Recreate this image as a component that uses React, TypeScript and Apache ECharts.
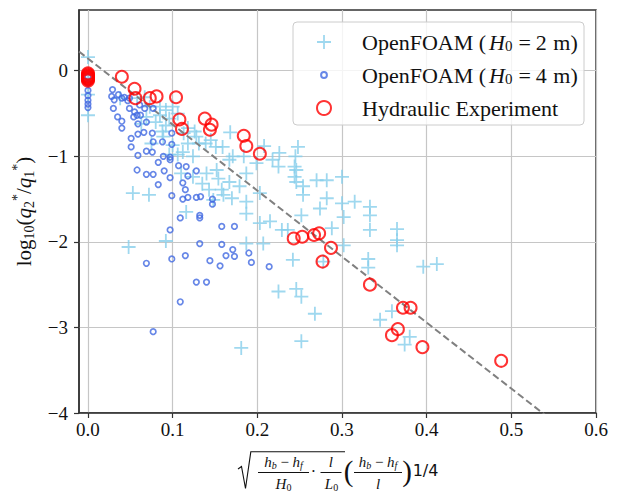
import React, { useEffect, useRef } from 'react';
import * as echarts from 'echarts';

// ---------- data ----------
const h2X = [0, 0, 0, 0, 0.038, 0.058, 0.067, 0.073, 0.085, 0.092, 0.100, 0.106, 0.096, 0.085, 0.069, 0.063, 0.080, 0.092, 0.088, 0.075, 0.089, 0.100, 0.113, 0.118, 0.126, 0.128, 0.131, 0.124, 0.106, 0.139, 0.145, 0.151, 0.159, 0.168, 0.167, 0.171, 0.187, 0.184, 0.199, 0.208, 0.218, 0.225, 0.226, 0.245, 0.244, 0.246, 0.244, 0.246, 0.248, 0.254, 0.203, 0.179, 0.152, 0.158, 0.140, 0.124, 0.135, 0.148, 0.118, 0.112, 0.110, 0.096, 0.053, 0.072, 0.143, 0.154, 0.160, 0.170, 0.167, 0.116, 0.270, 0.282, 0.300, 0.254, 0.282, 0.300, 0.315, 0.333, 0.333, 0.333, 0.302, 0.274, 0.252, 0.187, 0.187, 0.203, 0.215, 0.229, 0.236, 0.288, 0.187, 0.207, 0.242, 0.302, 0.331, 0.331, 0.365, 0.365, 0.365, 0.396, 0.412, 0.225, 0.246, 0.252, 0.268, 0.252, 0.359, 0.345, 0.380, 0.374, 0.181, 0.048, 0.092, 0.278];
const h2Y = [0.16, -0.09, -0.28, -0.52, -0.32, -0.32, -0.31, -0.42, -0.42, -0.46, -0.42, -0.50, -0.56, -0.52, -0.54, -0.62, -0.60, -0.64, -0.71, -0.85, -0.77, -0.87, -0.73, -0.67, -0.71, -0.77, -0.85, -1.00, -0.98, -0.85, -0.81, -0.89, -0.89, -0.72, -1.04, -1.00, -1.20, -1.00, -1.08, -0.88, -1.04, -1.12, -0.96, -1.00, -1.12, -1.16, -1.24, -1.30, -0.89, -1.35, -1.43, -1.35, -1.16, -1.39, -1.20, -1.24, -1.32, -1.51, -0.85, -0.95, -1.20, -0.98, -1.43, -1.45, -1.39, -1.26, -1.45, -1.49, -1.30, -1.65, -1.28, -1.28, -1.24, -1.45, -1.49, -1.55, -1.53, -1.59, -1.69, -1.86, -1.71, -1.61, -1.69, -1.53, -1.67, -1.78, -1.76, -1.86, -1.86, -1.84, -2.02, -2.02, -2.21, -2.04, -2.20, -2.30, -1.85, -1.98, -2.04, -2.29, -2.26, -2.58, -2.55, -2.64, -2.84, -3.16, -2.81, -2.91, -3.11, -3.20, -3.24, -2.06, -1.99, -2.23];

const h4X = [0, 0, 0, 0, 0, 0, 0, 0.029, 0.028, 0.036, 0.031, 0.040, 0.043, 0.047, 0.049, 0.030, 0.035, 0.040, 0.040, 0.049, 0.054, 0.058, 0.062, 0.059, 0.069, 0.066, 0.076, 0.077, 0.059, 0.051, 0.051, 0.059, 0.069, 0.076, 0.088, 0.099, 0.099, 0.089, 0.097, 0.097, 0.083, 0.061, 0.067, 0.077, 0.055, 0.058, 0.069, 0.077, 0.083, 0.090, 0.097, 0.107, 0.116, 0.118, 0.128, 0.112, 0.115, 0.118, 0.112, 0.099, 0.128, 0.133, 0.147, 0.147, 0.109, 0.132, 0.132, 0.097, 0.158, 0.173, 0.132, 0.158, 0.171, 0.163, 0.173, 0.190, 0.193, 0.214, 0.156, 0.144, 0.115, 0.099, 0.069, 0.128, 0.140, 0.109, 0.077];
const h4Y = [-0.07, -0.145, -0.23, -0.29, -0.345, -0.39, -0.43, -0.22, -0.30, -0.28, -0.34, -0.32, -0.31, -0.35, -0.32, -0.44, -0.54, -0.59, -0.67, -0.44, -0.54, -0.52, -0.52, -0.62, -0.60, -0.72, -0.73, -0.83, -0.74, -0.79, -0.89, -0.99, -0.94, -0.95, -0.83, -0.86, -0.73, -1.00, -1.01, -1.04, -1.07, -0.40, -0.44, -0.44, -0.48, -1.16, -1.21, -1.21, -1.33, -1.17, -1.25, -1.11, -1.12, -1.23, -1.17, -1.31, -1.39, -1.48, -1.50, -1.46, -1.48, -1.47, -1.50, -1.56, -1.72, -1.69, -1.72, -1.86, -1.82, -1.82, -2.02, -2.03, -2.09, -2.16, -2.17, -2.13, -2.24, -2.29, -2.28, -2.22, -2.16, -2.20, -2.25, -2.47, -2.47, -2.70, -3.05];

const expX = [0, 0, 0, 0, 0, 0, 0, 0, 0.040, 0.055, 0.056, 0.073, 0.081, 0.104, 0.108, 0.111, 0.138, 0.146, 0.144, 0.184, 0.187, 0.203, 0.243, 0.253, 0.267, 0.273, 0.287, 0.277, 0.333, 0.372, 0.381, 0.359, 0.366, 0.395, 0.488];
const expY = [-0.03, -0.045, -0.06, -0.07, -0.08, -0.09, -0.10, -0.115, -0.07, -0.21, -0.32, -0.32, -0.30, -0.31, -0.57, -0.68, -0.56, -0.63, -0.69, -0.76, -0.88, -0.97, -1.96, -1.94, -1.92, -1.90, -2.07, -2.23, -2.50, -2.77, -2.77, -3.09, -3.02, -3.23, -3.39];

const fitX = [-0.0106, 0.56];
const fitY = [0.224, -4.178];

const xTickValues = [0, 0.1, 0.2, 0.3, 0.4, 0.5, 0.6];
const yTickValues = [-4, -3, -2, -1, 0];

const NAME_H2 = 'OpenFOAM (H0 = 2 m)';
const NAME_H4 = 'OpenFOAM (H0 = 4 m)';
const NAME_EXP = 'Hydraulic Experiment';

const SERIF = "'Liberation Serif', 'Times New Roman', serif";
const PLUS_PATH = 'path://M0,6.1H14V7.9H0Z M6.1,0H7.9V14H6.1Z';
const SMALL_CIRCLE_PATH = 'path://M0,0M24,24M7,12a5,5 0 1,0 10,0a5,5 0 1,0 -10,0Z';

const LF = 22;
const legendRich = {
  f: { fontFamily: SERIF, fontSize: LF, lineHeight: 22, color: '#111', verticalAlign: 'middle', padding: [0, 0, 0, 12] },
  t: { fontFamily: SERIF, fontSize: LF, lineHeight: 22, color: '#111', verticalAlign: 'middle' },
  m: { fontFamily: SERIF, fontSize: LF, lineHeight: 22, color: '#111', verticalAlign: 'middle', padding: [0, 0, 0, 1] },
  i: { fontFamily: SERIF, fontSize: LF, fontStyle: 'italic', lineHeight: 22, color: '#111', padding: [0, 0, 0, 3], verticalAlign: 'middle' },
  s: { fontFamily: SERIF, fontSize: 15, lineHeight: 12, color: '#111', verticalAlign: 'bottom' },
  e: { fontFamily: SERIF, fontSize: LF, lineHeight: 22, color: '#111', padding: [0, 5, 0, 6], verticalAlign: 'middle' },
};
const legendText: Record<string, string> = {
  [NAME_H2]: '{f|OpenFOAM (}{i|H}{s|0}{e|=}{t|2}{m| m)}',
  [NAME_H4]: '{f|OpenFOAM (}{i|H}{s|0}{e|=}{t|4}{m| m)}',
  [NAME_EXP]: '{f|Hydraulic Experiment}',
};

function mathRich(size: number) {
  return {
    t: { fontFamily: SERIF, fontSize: size, fill: '#111', lineHeight: size + 2 },
    i: { fontFamily: SERIF, fontSize: size, fontStyle: 'italic', fill: '#111', lineHeight: size + 2 },
    s: { fontFamily: SERIF, fontSize: Math.round(size * 0.68), fontStyle: 'italic', fill: '#111', lineHeight: Math.round(size * 0.6), verticalAlign: 'bottom' },
    n: { fontFamily: SERIF, fontSize: Math.round(size * 0.68), fill: '#111', lineHeight: Math.round(size * 0.6), verticalAlign: 'bottom' },
  };
}

function mtext(x: number, y: number, text: string, size = 15, extra: any = {}) {
  return {
    type: 'text', x, y, z: 10, silent: true,
    style: {
      text, align: 'center', verticalAlign: 'middle', textAlign: 'center', textVerticalAlign: 'middle',
      fontFamily: SERIF, fontSize: size, fill: '#111', rich: mathRich(size), ...extra,
    },
  };
}
function hline(x1: number, x2: number, y: number) {
  return { type: 'line', z: 10, silent: true, shape: { x1, y1: y, x2, y2: y }, style: { stroke: '#111', lineWidth: 1 } };
}

export default function App() {
  const ref = useRef<HTMLDivElement>(null);
  useEffect(() => {
    document.body.style.margin = '0';
    if (!ref.current) return;
    const chart = echarts.init(ref.current, null, { renderer: 'svg' });
    const axisColor = '#333';
    const option: any = {
      animation: false,
      backgroundColor: '#fff',
      grid: { left: 79, right: 24, top: 10, bottom: 82, show: true, borderColor: axisColor, borderWidth: 1.5, outerBoundsMode: 'none' },
      xAxis: {
        type: 'value', min: -0.0106, max: 0.6,
        axisLine: { show: true, onZero: false, lineStyle: { color: axisColor, width: 1.5 } },
        axisTick: { show: true, length: 5, customValues: xTickValues, lineStyle: { color: axisColor, width: 1.2 } },
        axisLabel: { customValues: xTickValues, formatter: (v: number) => v.toFixed(1), fontFamily: SERIF, fontSize: 19, color: '#111', margin: 7 },
        splitLine: { show: true, lineStyle: { color: '#c6c6c6', width: 1.2 } },
      },
      yAxis: {
        type: 'value', min: -4, max: 0.71, interval: 1,
        axisLine: { show: true, onZero: false, lineStyle: { color: axisColor, width: 1.5 } },
        axisTick: { show: true, length: 5, customValues: yTickValues, lineStyle: { color: axisColor, width: 1.2 } },
        axisLabel: { customValues: yTickValues, formatter: (v: number) => (v === 0 ? '0' : '\u2212' + Math.abs(v)), fontFamily: SERIF, fontSize: 19, color: '#111', margin: 11 },
        splitLine: { show: true, lineStyle: { color: '#c6c6c6', width: 1.2 } },
        name: '{t|log}{n|10}{t|(}{i|q}{n|2}{p|*}{t|/}{i|q}{n|1}{p|*}{t|)}',
        nameLocation: 'middle', nameRotate: 90, nameGap: 40,
        nameTextStyle: {
          fontFamily: SERIF, fontSize: 21, color: '#111',
          rich: {
            t: { fontFamily: SERIF, fontSize: 21, lineHeight: 26, color: '#111' },
            i: { fontFamily: SERIF, fontSize: 21, fontStyle: 'italic', lineHeight: 26, color: '#111' },
            n: { fontFamily: SERIF, fontSize: 14, lineHeight: 13, color: '#111', verticalAlign: 'bottom' },
            p: { fontFamily: SERIF, fontSize: 14, lineHeight: 13, color: '#111', verticalAlign: 'top' },
          },
        },
      },
      legend: {
        orient: 'vertical', left: 316, top: 31, padding: 0, z: 20,
        itemWidth: 42, itemHeight: 14, itemGap: 11,
        data: [{ name: NAME_H2 }, { name: NAME_H4, icon: SMALL_CIRCLE_PATH }, { name: NAME_EXP }],
        formatter: (name: string) => legendText[name] || name,
        textStyle: { fontFamily: SERIF, fontSize: LF, color: '#111', rich: legendRich },
      },
      series: [
        {
          type: 'scatter', name: NAME_H2, z: 2,
          data: h2X.map((x, i) => [x, h2Y[i]]),
          symbol: PLUS_PATH, symbolSize: 14,
          itemStyle: { color: '#87CEEB' },
        },
        {
          type: 'scatter', name: NAME_H4, z: 3,
          data: h4X.map((x, i) => [x, h4Y[i]]),
          symbol: 'circle', symbolSize: 5.5,
          itemStyle: { color: 'rgba(255,255,255,0)', borderColor: '#4169E1', borderWidth: 1.7 },
        },
        {
          type: 'scatter', name: NAME_EXP, z: 4,
          data: expX.map((x, i) => [x, expY[i]]),
          symbol: 'circle', symbolSize: 12,
          itemStyle: { color: 'rgba(255,255,255,0)', borderColor: '#FF0000', borderWidth: 2 },
        },
        {
          type: 'line', name: 'fit', z: 3, silent: true,
          data: fitX.map((x, i) => [x, fitY[i]]),
          symbol: 'none', clip: true,
          lineStyle: { color: '#808080', width: 2, type: [7, 3.5] },
        },
      ],
      graphic: [
        { type: 'rect', z: 5, silent: true, shape: { x: 293, y: 22, width: 291, height: 103, r: 4 }, style: { fill: 'rgba(255,255,255,0.8)', stroke: '#cccccc', lineWidth: 1 } },
        // x-axis label formula
        { type: 'polyline', z: 10, silent: true, shape: { points: [[238, 469], [241.5, 466.5], [245.5, 488.5], [250.8, 451.8], [345, 451.8]] }, style: { stroke: '#111', lineWidth: 1.1, fill: 'none' } },
        mtext(283.5, 462, '{i|h}{s|b}{t| \u2212 }{i|h}{s|f}'),
        hline(258, 309, 472.5),
        mtext(283.5, 483.5, '{i|H}{n|0}'),
        mtext(313.5, 471, '\u00b7', 16),
        mtext(330.8, 462, '{i|l}'),
        hline(320.5, 341.5, 472.5),
        mtext(331.5, 483.5, '{i|L}{n|0}'),
        mtext(348.5, 471, '(', 29),
        mtext(378, 462, '{i|h}{s|b}{t| \u2212 }{i|h}{s|f}'),
        hline(354, 402, 472.5),
        mtext(378, 483.5, '{i|l}'),
        mtext(407, 471, ')', 29),
        mtext(425.5, 470, '1/4', 16, { fontFamily: "'DejaVu Sans', sans-serif" }),
      ],
    };
    chart.setOption(option);
    return () => chart.dispose();
  }, []);
  return <div ref={ref} style={{ width: 620, height: 495 }} />;
}
